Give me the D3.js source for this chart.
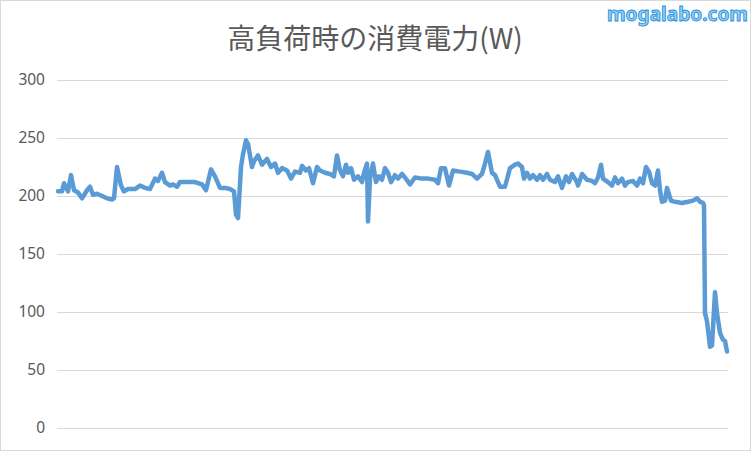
<!DOCTYPE html>
<html><head><meta charset="utf-8">
<script src="https://cdn.jsdelivr.net/npm/d3@7"></script>
<style>body{margin:0;background:#fff}svg{display:block}</style>
</head><body>
<svg id="chart" width="752" height="452"></svg>
<script>
const title = "高負荷時の消費電力(W)";
const watermark = "mogalabo.com";
const yTicks = [0, 50, 100, 150, 200, 250, 300];
// elapsed time (s)
const times = [0,4,6,10,13,16,20,24,29,32,35,39,44,49,54,56,59,63,66,70,77,82,87,92,97,100,104,107,112,115,119,122,127,137,144,148,153,157,162,167,172,176,178,180,183,185,188,190,194,196,200,204,209,213,217,220,224,229,233,237,242,244,248,251,255,259,262,267,272,276,279,282,285,288,290,293,296,300,304,306,309,310,312,315,318,321,324,327,330,333,337,340,344,347,352,357,364,370,377,380,383,387,391,395,402,409,414,419,424,427,430,434,437,442,447,452,457,460,464,466,469,472,475,479,482,485,489,492,497,500,504,508,511,514,519,520,524,529,534,537,540,543,545,550,554,557,560,564,567,570,575,579,582,585,588,591,594,597,600,602,604,607,609,613,617,624,630,635,639,642,645,646,647,649,652,654,657,659,662,665,667,669];
// power (W)
const watts = [204,204,211,204,218,205,203,198,205,208,201,202,200,198,197,198,225,209,204,206,206,209,207,206,215,213,220,212,209,210,208,212,212,212,210,205,223,217,207,207,206,204,184,181,225,236,248,245,225,230,235,227,232,225,228,220,224,222,215,221,220,226,222,224,211,225,222,220,219,217,235,222,217,227,220,224,214,217,212,220,228,178,215,228,212,217,214,224,220,212,218,215,219,216,210,216,215,215,214,211,224,224,209,222,221,220,219,215,219,228,238,220,218,208,208,224,227,228,225,215,220,215,218,214,218,214,219,214,212,217,207,217,212,219,212,209,219,214,213,211,216,227,215,212,209,216,211,215,209,212,213,209,215,211,225,221,211,209,222,205,195,196,207,196,195,194,195,196,198,195,194,192,99,92,70,71,117,99,82,76,75,66];

const svg = d3.select("#chart");
svg.append("rect").attr("x",0.5).attr("y",0.5).attr("width",750).attr("height",450)
  .attr("fill","#fff").attr("stroke","#d9d9d9");

const x = d3.scaleLinear().domain([0, d3.max(times)]).range([58, 727]);
const y = d3.scaleLinear().domain([0, 300]).range([428, 80]);

const yAxis = d3.axisLeft(y).tickValues(yTicks).tickSize(-(728-57)).tickPadding(12);
const g = svg.append("g").attr("transform","translate(57,0)").call(yAxis);
g.select(".domain").remove();
g.selectAll(".tick line").attr("stroke","#d9d9d9").attr("stroke-width",1);
g.selectAll(".tick text").attr("fill","#595959").attr("font-family","'Noto Sans', sans-serif").attr("font-size",15.5);

const data = times.map((t,i)=>({t, v: watts[i]}));
svg.append("path").datum(data)
  .attr("fill","none").attr("stroke","#5b9bd5").attr("stroke-width",4.5)
  .attr("stroke-linejoin","round").attr("stroke-linecap","round")
  .attr("d", d3.line().x(d=>x(d.t)).y(d=>y(d.v)));

svg.append("text").attr("x",375).attr("y",49).attr("text-anchor","middle")
  .attr("font-family","'Noto Sans CJK JP', sans-serif").attr("font-size",28)
  .attr("fill","#595959").text(title);

svg.append("text").attr("x",748).attr("y",21).attr("text-anchor","end")
  .attr("font-family","'Noto Sans', sans-serif").attr("font-weight","bold").attr("font-size",19)
  .attr("textLength",141).attr("lengthAdjust","spacingAndGlyphs")
  .attr("fill","#8fd0f5").attr("stroke","#2b8fdc").attr("stroke-width",0.9)
  .text(watermark);
</script>
</body></html>
